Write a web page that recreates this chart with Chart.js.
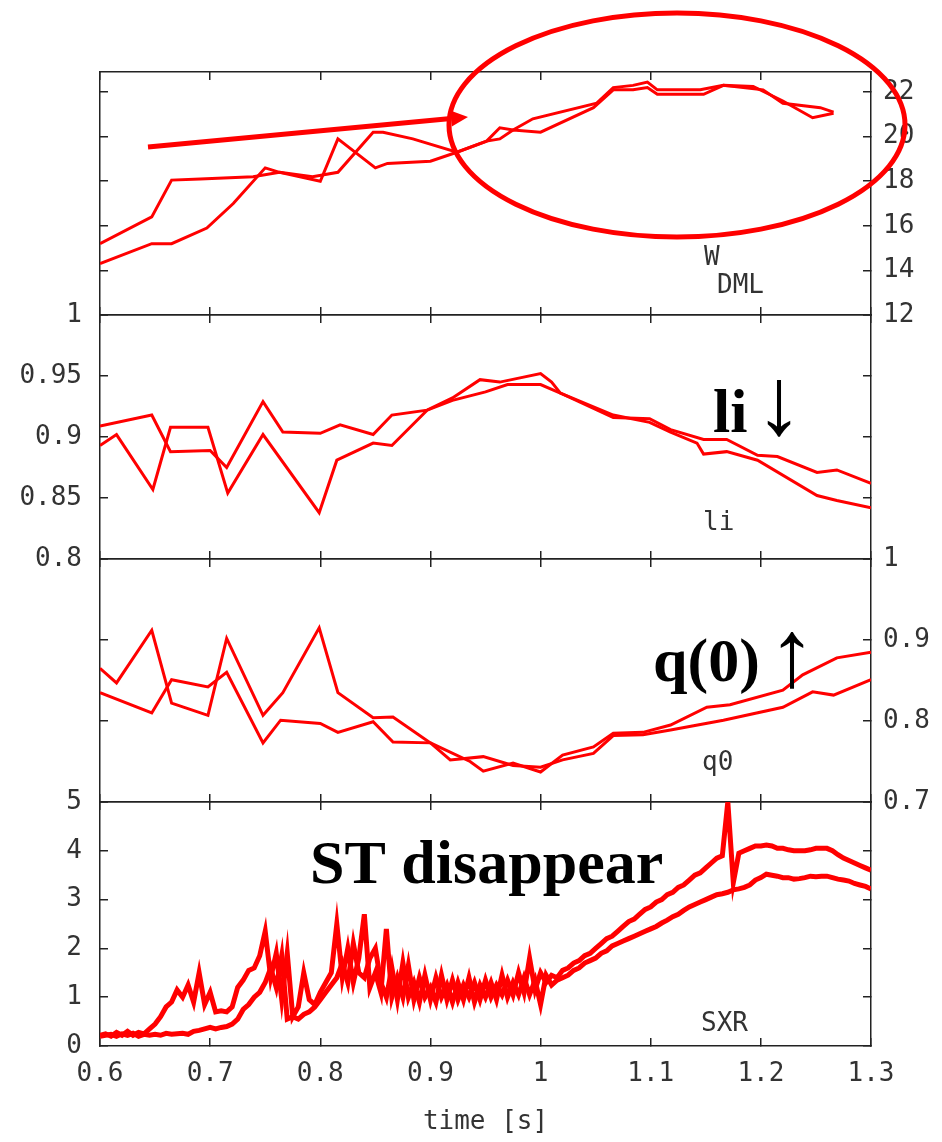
<!DOCTYPE html>
<html>
<head>
<meta charset="utf-8">
<script src="https://cdn.jsdelivr.net/npm/chart.js@4.4.1/dist/chart.umd.min.js"></script>
<style>
  html, body { margin: 0; padding: 0; background: #fff; }
  #wrap { position: relative; width: 942px; height: 1142px; }
  #wrap canvas { position: absolute; left: 0; top: 0; }
</style>
</head>
<body>
<div id="wrap">
  <canvas id="cW" width="942" height="1142"></canvas>
  <canvas id="cLi" width="942" height="1142"></canvas>
  <canvas id="cQ0" width="942" height="1142"></canvas>
  <canvas id="cSxr" width="942" height="1142"></canvas>
</div>
<script>
// stored energy W_DML [kJ], two shots
const wTimeA = [0.600, 0.647, 0.665, 0.691, 0.739, 0.763, 0.800, 0.816, 0.850, 0.861, 0.900, 0.924, 0.951, 0.963, 0.975, 0.993, 1.051, 1.066, 1.084, 1.097, 1.106, 1.145, 1.166, 1.193, 1.220, 1.247, 1.266];
const wValA = [15.2, 16.4, 18.05, 18.1, 18.2, 18.4, 18.0, 19.9, 18.6, 18.8, 18.9, 19.3, 19.8, 20.4, 20.3, 20.8, 21.5, 22.2, 22.3, 22.45, 22.1, 22.1, 22.3, 22.25, 21.6, 20.85, 21.05];
const wTimeB = [0.600, 0.647, 0.665, 0.697, 0.721, 0.750, 0.763, 0.793, 0.816, 0.848, 0.857, 0.884, 0.924, 0.951, 0.963, 0.975, 1.000, 1.048, 1.066, 1.084, 1.097, 1.106, 1.148, 1.166, 1.202, 1.220, 1.254, 1.266];
const wValB = [14.3, 15.2, 15.2, 15.9, 17.0, 18.6, 18.4, 18.2, 18.4, 20.2, 20.2, 19.9, 19.3, 19.8, 19.9, 20.3, 20.2, 21.3, 22.1, 22.1, 22.2, 21.9, 21.9, 22.3, 22.1, 21.5, 21.3, 21.1];

// internal inductance li
const liTimeA = [0.600, 0.647, 0.664, 0.700, 0.715, 0.748, 0.766, 0.800, 0.818, 0.848, 0.865, 0.897, 0.920, 0.945, 0.963, 1.000, 1.010, 1.018, 1.066, 1.099, 1.118, 1.148, 1.169, 1.197, 1.215, 1.251, 1.269, 1.300];
const liValA = [0.909, 0.918, 0.888, 0.889, 0.875, 0.929, 0.904, 0.903, 0.910, 0.902, 0.918, 0.922, 0.932, 0.947, 0.945, 0.952, 0.945, 0.936, 0.916, 0.915, 0.906, 0.898, 0.898, 0.885, 0.884, 0.871, 0.873, 0.862];
const liTimeB = [0.600, 0.615, 0.648, 0.664, 0.698, 0.716, 0.748, 0.799, 0.815, 0.848, 0.865, 0.897, 0.920, 0.950, 0.970, 1.000, 1.018, 1.066, 1.099, 1.118, 1.142, 1.148, 1.169, 1.197, 1.251, 1.269, 1.300];
const liValB = [0.893, 0.902, 0.857, 0.908, 0.908, 0.854, 0.902, 0.838, 0.881, 0.895, 0.893, 0.922, 0.930, 0.937, 0.943, 0.943, 0.936, 0.918, 0.912, 0.904, 0.895, 0.886, 0.888, 0.881, 0.852, 0.848, 0.842];

// central safety factor q0
const q0TimeA = [0.600, 0.615, 0.647, 0.665, 0.698, 0.715, 0.748, 0.766, 0.799, 0.816, 0.848, 0.866, 0.900, 0.936, 0.948, 0.975, 1.000, 1.020, 1.048, 1.066, 1.093, 1.118, 1.151, 1.172, 1.220, 1.238, 1.269, 1.300];
const q0ValA = [0.865, 0.847, 0.912, 0.822, 0.807, 0.902, 0.807, 0.835, 0.915, 0.835, 0.804, 0.805, 0.773, 0.750, 0.738, 0.748, 0.737, 0.758, 0.768, 0.785, 0.786, 0.795, 0.817, 0.820, 0.838, 0.857, 0.878, 0.885];
const q0TimeB = [0.600, 0.647, 0.665, 0.698, 0.715, 0.748, 0.764, 0.800, 0.816, 0.848, 0.866, 0.900, 0.918, 0.948, 0.975, 1.000, 1.020, 1.048, 1.066, 1.093, 1.118, 1.166, 1.220, 1.247, 1.266, 1.300];
const q0ValB = [0.835, 0.810, 0.851, 0.842, 0.860, 0.773, 0.801, 0.797, 0.786, 0.799, 0.774, 0.773, 0.752, 0.756, 0.745, 0.743, 0.752, 0.760, 0.782, 0.783, 0.789, 0.801, 0.817, 0.836, 0.832, 0.851];

// soft x-ray, sampled every 5 ms from 0.6 s
const sxrStart = 0.6;
const sxrStep = 0.005;
const sxrA = [
  0.22, 0.25, 0.20, 0.28, 0.22, 0.30, 0.22, 0.28, 0.25, 0.35,
  0.45, 0.60, 0.80, 0.90, 1.15, 1.00, 1.25, 0.90, 1.50, 0.85,
  1.10, 0.70, 0.72, 0.70, 0.80, 1.20, 1.35, 1.55, 1.60, 1.85,
  2.35, 1.40, 1.90, 0.95, 1.90, 0.60, 0.80, 1.50, 0.95, 0.85,
  1.10, 1.30, 1.50, 2.50, 1.40, 2.00, 1.30, 1.80, 2.70, 1.20,
  1.50, 1.10, 2.40, 1.00, 1.40, 1.00, 1.65, 0.95, 1.40, 1.00,
  1.20, 0.90, 1.45, 0.95, 1.35, 0.95, 1.25, 1.00, 1.30, 0.95,
  1.35, 1.00, 1.25, 1.05, 1.35, 1.05, 1.50, 1.10, 1.80, 1.15,
  1.50, 1.30, 1.45, 1.40, 1.55, 1.60, 1.70, 1.75, 1.85, 1.90,
  2.00, 2.10, 2.20, 2.25, 2.35, 2.45, 2.55, 2.60, 2.70, 2.80,
  2.85, 2.95, 3.00, 3.10, 3.15, 3.25, 3.30, 3.40, 3.50, 3.55,
  3.65, 3.75, 3.85, 3.90, 5.00, 3.35, 3.95, 4.00, 4.05, 4.10,
  4.10, 4.12, 4.10, 4.05, 4.05, 4.02, 4.00, 4.00, 4.00, 4.02,
  4.05, 4.05, 4.05, 4.00, 3.92, 3.85, 3.80, 3.75, 3.70, 3.65,
  3.60
];
const sxrB = [
  0.20, 0.22, 0.24, 0.20, 0.25, 0.22, 0.26, 0.20, 0.24, 0.22,
  0.24, 0.22, 0.26, 0.24, 0.25, 0.26, 0.24, 0.30, 0.32, 0.35,
  0.38, 0.35, 0.38, 0.40, 0.45, 0.55, 0.75, 0.85, 1.00, 1.10,
  1.30, 1.60, 1.20, 1.85, 0.55, 0.60, 0.55, 0.65, 0.70, 0.80,
  0.95, 1.10, 1.25, 1.40, 1.70, 1.30, 2.10, 1.50, 1.40, 1.80,
  2.00, 1.30, 1.00, 1.60, 0.95, 1.70, 1.00, 1.30, 0.90, 1.45,
  0.95, 1.40, 1.00, 1.25, 0.90, 1.30, 0.95, 1.40, 0.90, 1.25,
  1.00, 1.30, 0.95, 1.45, 1.00, 1.30, 1.05, 1.40, 1.05, 1.35,
  0.85, 1.45, 1.25, 1.35, 1.40, 1.45, 1.55, 1.60, 1.70, 1.75,
  1.80, 1.90, 1.95, 2.05, 2.10, 2.15, 2.20, 2.25, 2.30, 2.35,
  2.40, 2.45, 2.52, 2.58, 2.65, 2.70, 2.78, 2.85, 2.90, 2.95,
  3.00, 3.05, 3.10, 3.12, 3.15, 3.20, 3.22, 3.25, 3.30, 3.40,
  3.45, 3.52, 3.50, 3.48, 3.45, 3.45, 3.42, 3.43, 3.45, 3.48,
  3.47, 3.48, 3.48, 3.45, 3.42, 3.40, 3.38, 3.33, 3.30, 3.27,
  3.22
];
const sxrTime = sxrA.map((_, i) => sxrStart + i * sxrStep);

// frame geometry of the four stacked panels
const pageH = 1142;
const panelEdges = [72, 315, 559, 802, 1046];
const leftAxisW = 100;
const rightAxisW = 71;

const frameColor = "#222";
const labelColor = "#333";
const tickFont = { family: "'DejaVu Sans Mono', monospace", size: 26 };
const bigFont = "bold 62px 'Liberation Serif', serif";
const arrowFont = "96px 'Liberation Serif', serif";
const smallFont = "26px 'DejaVu Sans Mono', monospace";

// gnuplot-like numbers: 1 rather than 1.00
const plainNumber = (v) => String(Number(v.toFixed(3)));

const pairs = (t, v) => t.map((x, i) => ({ x, y: v[i] }));

const redLine = (data, yAxisID, width) => ({
    data,
    yAxisID,
    xAxisID: "x",
    borderColor: "#ff0000",
    borderWidth: width,
    pointRadius: 0,
    tension: 0,
    fill: false,
});

const frameGrid = { drawOnChartArea: false, tickLength: -8, color: frameColor, lineWidth: 1.5 };
const frameBorder = { display: true, color: frameColor, width: 1.5 };

const yAxis = (position, min, max, step, showLabels) => ({
    type: "linear",
    position,
    min,
    max,
    bounds: "data",
    afterFit: (axis) => { axis.width = position === "left" ? leftAxisW : rightAxisW; },
    border: frameBorder,
    grid: frameGrid,
    ticks: {
        display: showLabels,
        stepSize: step,
        includeBounds: false,
        font: tickFont,
        color: labelColor,
        padding: position === "left" ? 26 : 20,
        callback: plainNumber,
    },
});

const xAxis = (position, height, showLabels, title) => ({
    type: "linear",
    position,
    min: 0.6,
    max: 1.3,
    bounds: "data",
    afterFit: (axis) => { axis.height = height; },
    border: frameBorder,
    grid: frameGrid,
    ticks: {
        display: showLabels,
        stepSize: 0.1,
        includeBounds: false,
        autoSkip: false,
        maxRotation: 0,
        font: tickFont,
        color: labelColor,
        padding: 21,
        callback: plainNumber,
    },
    title: {
        display: !!title,
        text: title || "",
        font: tickFont,
        color: labelColor,
        padding: { top: 0, bottom: 4 },
    },
});

// free text drawn on top of a panel
const notes = (items) => ({
    id: "notes",
    afterDraw(chart) {
        const ctx = chart.ctx;
        ctx.save();
        ctx.textBaseline = "alphabetic";
        ctx.textAlign = "left";
        items.forEach((n) => {
            ctx.font = n.font;
            ctx.fillStyle = n.color || "#000";
            ctx.fillText(n.text, n.x, n.y);
        });
        ctx.restore();
    },
});

// red ring around the flat-top of W and the pointer leading to it
const ring = {
    id: "ring",
    afterDraw(chart) {
        const ctx = chart.ctx;
        ctx.save();
        ctx.strokeStyle = "#ff0000";
        ctx.fillStyle = "#ff0000";
        ctx.lineWidth = 5;
        ctx.beginPath();
        ctx.ellipse(677, 125, 228, 112, 0, 0, Math.PI * 2);
        ctx.stroke();

        const x0 = 148, y0 = 147, x1 = 468, y1 = 117;
        const ang = Math.atan2(y1 - y0, x1 - x0);
        const head = 17, half = 8;
        const bx = x1 - head * Math.cos(ang), by = y1 - head * Math.sin(ang);
        ctx.beginPath();
        ctx.moveTo(x0, y0);
        ctx.lineTo(bx, by);
        ctx.stroke();
        ctx.beginPath();
        ctx.moveTo(x1, y1);
        ctx.lineTo(bx + half * Math.sin(ang), by - half * Math.cos(ang));
        ctx.lineTo(bx - half * Math.sin(ang), by + half * Math.cos(ang));
        ctx.closePath();
        ctx.fill();
        ctx.restore();
    },
};

const makePanel = (canvasId, index, datasets, axes, plugins) => {
    const top = panelEdges[index];
    const bottom = panelEdges[index + 1];
    const last = index === 3;
    return new Chart(document.getElementById(canvasId), {
        type: "line",
        data: { datasets },
        options: {
            responsive: false,
            animation: false,
            events: [],
            layout: { padding: { top, bottom: last ? 0 : pageH - bottom, left: 0, right: 0 } },
            plugins: { legend: { display: false }, tooltip: { enabled: false } },
            scales: Object.assign({
                x: xAxis("bottom", last ? pageH - bottom : 0, last, last ? "time [s]" : ""),
                xTop: xAxis("top", 0, false, ""),
            }, axes),
        },
        plugins,
    });
};

makePanel("cW", 0, [
    redLine(pairs(wTimeA, wValA), "yR", 3),
    redLine(pairs(wTimeB, wValB), "yR", 3),
], {
    yL: yAxis("left", 12, 22.9, 2, false),
    yR: yAxis("right", 12, 22.9, 2, true),
}, [notes([
    { text: "W", x: 704, y: 265, font: smallFont, color: labelColor },
    { text: "DML", x: 717, y: 293, font: smallFont, color: labelColor },
]), ring]);

makePanel("cLi", 1, [
    redLine(pairs(liTimeA, liValA), "yL", 3),
    redLine(pairs(liTimeB, liValB), "yL", 3),
], {
    yL: yAxis("left", 0.8, 1.0, 0.05, true),
    yR: yAxis("right", 0.8, 1.0, 0.05, false),
}, [notes([
    { text: "li", x: 703, y: 530, font: smallFont, color: labelColor },
    { text: "li", x: 713, y: 432, font: bigFont },
    { text: "\u2193", x: 755, y: 434, font: arrowFont },
])]);

makePanel("cQ0", 2, [
    redLine(pairs(q0TimeA, q0ValA), "yR", 3),
    redLine(pairs(q0TimeB, q0ValB), "yR", 3),
], {
    yL: yAxis("left", 0.7, 1.0, 0.1, false),
    yR: yAxis("right", 0.7, 1.0, 0.1, true),
}, [notes([
    { text: "q0", x: 702, y: 770, font: smallFont, color: labelColor },
    { text: "q(0)", x: 653, y: 681, font: bigFont },
    { text: "\u2191", x: 768, y: 686, font: arrowFont },
])]);

makePanel("cSxr", 3, [
    redLine(pairs(sxrTime, sxrA), "yL", 5),
    redLine(pairs(sxrTime, sxrB), "yL", 5),
], {
    yL: yAxis("left", 0, 5, 1, true),
    yR: yAxis("right", 0, 5, 1, false),
}, [notes([
    { text: "SXR", x: 701, y: 1031, font: smallFont, color: labelColor },
    { text: "ST disappear", x: 310, y: 883, font: bigFont },
])]);
</script>
</body>
</html>
